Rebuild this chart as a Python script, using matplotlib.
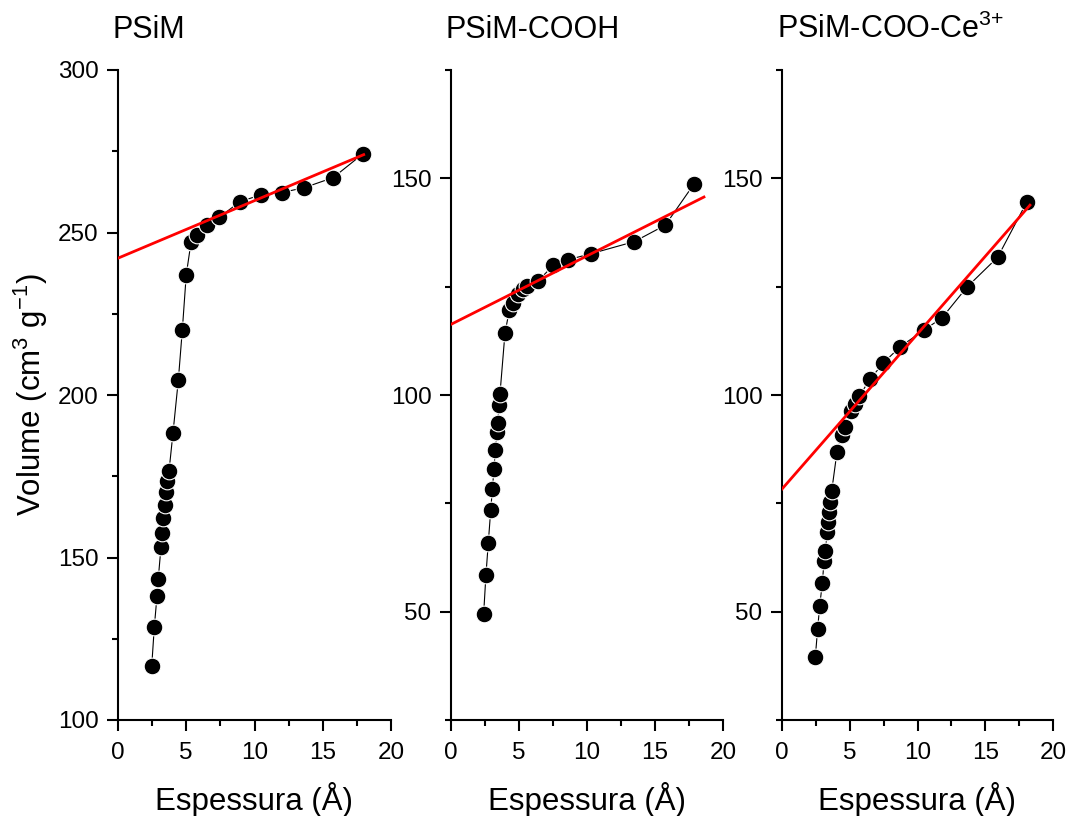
import matplotlib
matplotlib.use("Agg")
import matplotlib.pyplot as plt
from matplotlib.ticker import MultipleLocator

plt.rcParams['font.family'] = ['Liberation Sans', 'DejaVu Sans']
plt.rcParams['mathtext.fontset'] = 'custom'
plt.rcParams['mathtext.rm'] = 'Liberation Sans'
plt.rcParams['mathtext.default'] = 'regular'

# t-plot data: thickness (A) vs adsorbed volume (cm3/g)
psim_x = [2.47, 2.66, 2.86, 2.95, 3.15, 3.25, 3.32, 3.44, 3.52, 3.61, 3.74, 4.03,
          4.42, 4.71, 5.00, 5.35, 5.76, 6.50, 7.42, 8.94, 10.48, 12.01, 13.65, 15.77, 17.97]
psim_y = [116.6, 128.6, 138.3, 143.5, 153.2, 157.6, 162.1, 166.3, 170.1, 173.5, 176.7, 188.4,
          204.6, 219.9, 237.0, 247.0, 249.3, 252.4, 254.7, 259.5, 261.6, 262.3, 263.8, 266.9, 274.3]

cooh_x = [2.40, 2.57, 2.74, 2.92, 3.04, 3.16, 3.26, 3.38, 3.43, 3.53, 3.60, 3.97,
          4.29, 4.58, 4.95, 5.32, 5.61, 6.42, 7.52, 8.58, 10.29, 13.48, 15.76, 17.87]
cooh_y = [49.5, 58.5, 65.8, 73.4, 78.2, 82.9, 87.3, 91.5, 93.5, 97.7, 100.2, 114.3,
          119.6, 121.3, 123.2, 124.4, 125.1, 126.4, 129.9, 131.2, 132.6, 135.4, 139.2, 148.7]

ce_x = [2.46, 2.63, 2.78, 2.98, 3.10, 3.20, 3.34, 3.42, 3.47, 3.57, 3.67, 4.06,
        4.40, 4.65, 5.09, 5.39, 5.71, 6.49, 7.48, 8.71, 10.48, 11.81, 13.65, 15.92, 18.06]
ce_y = [39.6, 46.0, 51.3, 56.7, 61.6, 64.1, 68.4, 70.6, 72.9, 75.4, 77.9, 86.9,
        90.7, 92.7, 96.2, 98.0, 99.8, 103.6, 107.4, 111.1, 115.0, 117.8, 124.9, 131.8, 144.5]

# linear fits (intercept, slope, end of fitted range)
fits = [(242.1, 1.77, 18.0), (116.3, 1.58, 18.6), (78.3, 3.58, 18.3)]

titles = ['PSiM', 'PSiM-COOH', 'PSiM-COO-Ce$^{3{+}}$']
ylims = [(100, 300), (25, 175), (25, 175)]
series = [(psim_x, psim_y), (cooh_x, cooh_y), (ce_x, ce_y)]

fig = plt.figure(figsize=(10.73, 8.16), dpi=100)
lefts = [118 / 1073, 451 / 1073, 782 / 1073]
widths = [273 / 1073, 272 / 1073, 271 / 1073]
bottom = 96 / 816
height = 650 / 816

for i in range(3):
    ax = fig.add_axes([lefts[i], bottom, widths[i], height])
    x, y = series[i]
    ax.plot(x, y, color='black', lw=0.8, marker='o', ms=12,
            mfc='black', mec='white', mew=0.8, zorder=3)
    b, m, xe = fits[i]
    ax.plot([0, xe], [b, b + m * xe], color='red', lw=2.0, zorder=4)

    ax.set_xlim(0, 20)
    ax.set_ylim(*ylims[i])
    ax.xaxis.set_major_locator(MultipleLocator(5))
    ax.xaxis.set_minor_locator(MultipleLocator(2.5))
    ax.yaxis.set_major_locator(MultipleLocator(50))
    ax.yaxis.set_minor_locator(MultipleLocator(25))
    for side in ['top', 'right']:
        ax.spines[side].set_visible(False)
    for side in ['left', 'bottom']:
        ax.spines[side].set_linewidth(1.5)
    ax.tick_params(which='major', direction='out', length=8, width=1.5,
                   labelsize=17.5, pad=6)
    ax.tick_params(axis='x', which='major', pad=8)
    ax.tick_params(which='minor', direction='out', length=4.5, width=1.5)
    ax.set_xlabel('Espessura (Å)', fontsize=22.5, labelpad=13)
    ax.text(-0.02, 1.05, titles[i], transform=ax.transAxes, fontsize=22,
            ha='left', va='baseline')
    if i == 0:
        ax.set_ylabel('Volume (cm$^3$ g$^{-1}$)', fontsize=22.5)
        ax.yaxis.set_label_coords(-0.25, 0.5)

fig.savefig('out.png', dpi=100)
